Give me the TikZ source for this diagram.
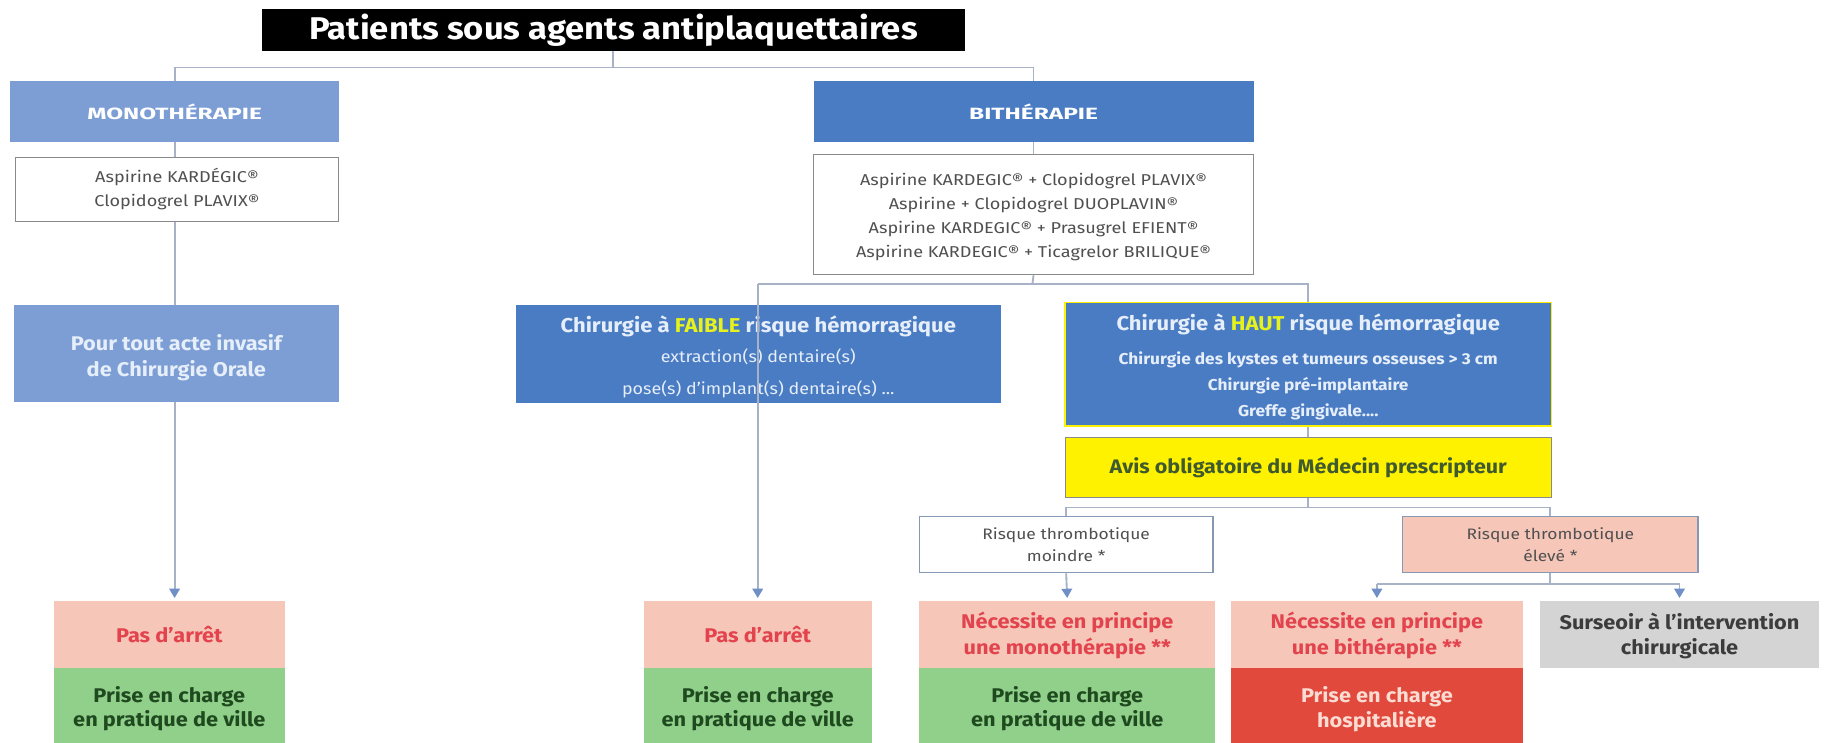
\documentclass[tikz,border=0pt]{standalone}
\usepackage{fontspec}
\setmainfont[FakeStretch=1.1]{Fira Sans}
\newfontfamily\listfont[FakeStretch=1.15]{Fira Sans}
\newfontfamily\widefont[FakeStretch=1.5]{Fira Sans}
\usetikzlibrary{arrows.meta}
\newcommand\mystrut[1]{\rule{0pt}{#1}}
\definecolor{lineC}{HTML}{A7B2C6}
\definecolor{arrC}{HTML}{6F8FC6}
\definecolor{monoC}{HTML}{7C9ED4}
\definecolor{bithC}{HTML}{4A7CC3}
\definecolor{listT}{HTML}{505050}
\definecolor{listB}{HTML}{8A8A8A}
\definecolor{paleT}{HTML}{E6EEFA}
\definecolor{yelT}{HTML}{E6F21C}
\definecolor{yelB}{HTML}{FFF200}
\definecolor{avisT}{HTML}{3F5A2E}
\definecolor{pinkC}{HTML}{F6C6B9}
\definecolor{pinkT}{HTML}{E2434D}
\definecolor{greenC}{HTML}{90D08A}
\definecolor{greenT}{HTML}{1F4A1F}
\definecolor{redC}{HTML}{E0493B}
\definecolor{redT}{HTML}{FBDCD3}
\definecolor{grayC}{HTML}{D4D4D4}
\definecolor{grayT}{HTML}{3C3C3C}
\definecolor{riskB}{HTML}{8598B4}
\begin{document}
\begin{tikzpicture}[x=1pt,y=-1pt,
  base/.style={rectangle, align=center, inner sep=1pt},
  titlebox/.style={base, fill=black, text=white, font=\bfseries\fontsize{27}{30}\selectfont},
  headmono/.style={base, fill=monoC, text=white, font=\widefont\bfseries\fontsize{14}{16}\selectfont},
  headbith/.style={base, fill=bithC, text=white, font=\widefont\bfseries\fontsize{14}{16}\selectfont},
  listbox/.style={base, fill=white, draw=listB, line width=1pt, text=listT, font=\listfont\fontsize{13.5}{20.5}\selectfont},
  lightblue/.style={base, fill=monoC, text=paleT, font=\bfseries\fontsize{17}{22}\selectfont},
  darkblue/.style={base, fill=bithC, text=paleT},
  avisbox/.style={base, fill=yelB, draw=listB, line width=0.8pt, text=avisT, font=\bfseries\fontsize{16.8}{19}\selectfont},
  riskw/.style={base, fill=white, draw=riskB, line width=1.2pt, text=listT, font=\listfont\fontsize{13}{19.5}\selectfont},
  riskp/.style={base, fill=pinkC, draw=riskB, line width=1.2pt, text=listT, font=\listfont\fontsize{13}{19.5}\selectfont},
  pinkbox/.style={base, fill=pinkC, text=pinkT, font=\bfseries\fontsize{17}{22}\selectfont},
  greenbox/.style={base, fill=greenC, text=greenT, font=\bfseries\fontsize{17}{20.5}\selectfont},
  redbox/.style={base, fill=redC, text=redT, font=\bfseries\fontsize{17}{21}\selectfont},
  graybox/.style={base, fill=grayC, text=grayT, font=\bfseries\fontsize{17}{22}\selectfont},
  conn/.style={draw=lineC, line width=1.6pt},
  arrowc/.style={conn, -{Triangle[width=9pt,length=8pt,color=arrC]}, shorten >=2pt}
]
\useasboundingbox (0,0) rectangle (1568,638);
\fill[white] (0,0) rectangle (1568,638);

\coordinate (j1) at (527,58);
\coordinate (j2) at (887,244);
\coordinate (j3) at (1124,436);
\coordinate (j4) at (1332,502);

% ---- nodes ----
\node[titlebox, minimum width=604, minimum height=36] (title) at (527,26) {Patients sous agents antiplaquettaires};
\node[headmono, minimum width=282, minimum height=52] (mono) at (150,96) {MONOTHÉRAPIE};
\node[headbith, minimum width=378, minimum height=52] (bith) at (888,96) {BITHÉRAPIE};
\node[listbox, minimum width=278, minimum height=55] (monolist) at (152,162.5) {Aspirine KARDÉGIC®\\Clopidogrel PLAVIX®};
\node[listbox, minimum width=378, minimum height=103] (bithlist) at (888,184.5) {\mystrut{14pt}Aspirine KARDEGIC® + Clopidogrel PLAVIX®\\Aspirine + Clopidogrel DUOPLAVIN®\\Aspirine KARDEGIC® + Prasugrel EFIENT®\\Aspirine KARDEGIC® + Ticagrelor BRILIQUE®};
\node[lightblue, minimum width=279, minimum height=83] (pour) at (151.5,303.5) {\mystrut{21pt}Pour tout acte invasif\\de Chirurgie Orale};
\node[darkblue, minimum width=417, minimum height=84, font=\fontsize{14}{27}\selectfont] (faible) at (651.5,304) {{\bfseries\fontsize{17.2}{20}\selectfont\mystrut{19pt}Chirurgie à \textcolor{yelT}{FAIBLE} risque hémorragique}\\[-1pt]extraction(s) dentaire(s)\\pose(s) d'implant(s) dentaire(s) ...};
\node[darkblue, draw=yelB, line width=1.5pt, minimum width=418, minimum height=106, font=\bfseries\fontsize{13.5}{22.5}\selectfont] (haut) at (1124,313) {{\fontsize{17.2}{20}\selectfont\mystrut{19pt}Chirurgie à \textcolor{yelT}{HAUT} risque hémorragique}\\[7pt]Chirurgie des kystes et tumeurs osseuses > 3 cm\\Chirurgie pré-implantaire\\Greffe gingivale....};
\node[avisbox, minimum width=418, minimum height=52] (avis) at (1124,401.5) {Avis obligatoire du Médecin prescripteur};
\node[riskw, minimum width=252, minimum height=48] (moindre) at (916,468) {Risque thrombotique\\moindre *};
\node[riskp, minimum width=254, minimum height=48] (eleve) at (1332,468) {Risque thrombotique\\élevé *};

\node[pinkbox, minimum width=199, minimum height=58] (pas1) at (145.5,545) {Pas d'arrêt};
\node[greenbox, minimum width=199, minimum height=64] (prise1) at (145.5,606) {\mystrut{20pt}Prise en charge\\en pratique de ville};
\node[pinkbox, minimum width=196, minimum height=58] (pas2) at (651,545) {Pas d'arrêt};
\node[greenbox, minimum width=196, minimum height=64] (prise2) at (651,606) {\mystrut{20pt}Prise en charge\\en pratique de ville};
\node[pinkbox, minimum width=254, minimum height=58] (nec1) at (917,545) {\mystrut{16pt}Nécessite en principe\\une monothérapie **};
\node[greenbox, minimum width=254, minimum height=64] (prise3) at (917,606) {\mystrut{20pt}Prise en charge\\en pratique de ville};
\node[pinkbox, minimum width=251, minimum height=58] (nec2) at (1183,545) {\mystrut{16pt}Nécessite en principe\\une bithérapie **};
\node[redbox, minimum width=251, minimum height=64] (hosp) at (1183,606) {\mystrut{20pt}Prise en charge\\hospitalière};
\node[graybox, minimum width=240, minimum height=58] (surs) at (1443,545) {\mystrut{17pt}Surseoir à l'intervention\\chirurgicale};

% ---- connectors ----
\draw[conn] (title.south) -- (j1);
\draw[conn] (mono.north) -- (mono.north |- j1) -- (bith.north |- j1) -- (bith.north);
\draw[conn] (mono.south) -- (mono.south |- monolist.north);
\draw[conn] (monolist.south -| mono.south) -- (mono.south |- pour.north);
\draw[arrowc] (pour.south -| mono.south) -- (mono.south |- pas1.north);
\draw[conn] (bith.south) -- (bithlist.north);
\draw[conn] (bithlist.south) -- (j2);
\draw[conn] (haut.north) -- (haut.north |- j2) -- (pas2.north |- j2);
\draw[arrowc] (pas2.north |- j2) -- (pas2.north);
\draw[conn] (haut.south) -- (avis.north);
\draw[conn] (avis.south) -- (j3);
\draw[conn] (moindre.north) -- (moindre.north |- j3) -- (eleve.north |- j3) -- (eleve.north);
\draw[arrowc] (moindre.south) -- (nec1.north);
\draw[conn] (eleve.south) -- (j4);
\draw[conn] (j4) -- (nec2.north |- j4) (j4) -- (surs.north |- j4);
\draw[arrowc] (nec2.north |- j4) -- (nec2.north);
\draw[arrowc] (surs.north |- j4) -- (surs.north);
\end{tikzpicture}
\end{document}
